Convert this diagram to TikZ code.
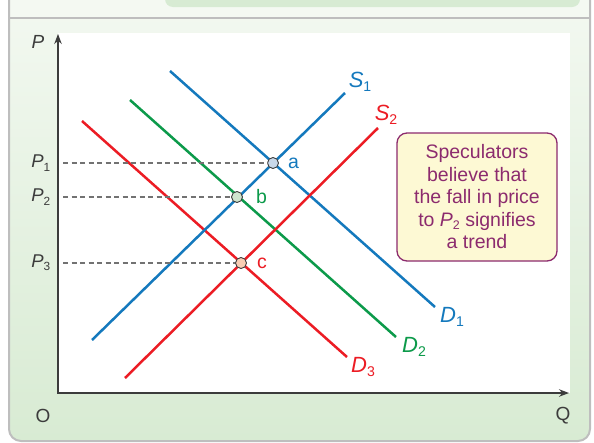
\documentclass[tikz,border=0pt]{standalone}
\usepackage{fontspec}
\setmainfont{Liberation Sans}
\usetikzlibrary{arrows.meta,positioning,calc}
\definecolor{mkblue}{HTML}{1479BD}
\definecolor{mkred}{HTML}{EC1C24}
\definecolor{mkgreen}{HTML}{0C9A4A}
\definecolor{mkplum}{HTML}{8C2B6E}
\definecolor{mkcream}{HTML}{FDF9D4}
\definecolor{mkframe}{HTML}{BEBEBE}
\definecolor{mkpale}{HTML}{F4F9F2}
\definecolor{mkmint}{HTML}{D8EBD3}
\definecolor{mktab}{HTML}{D7EBD3}
\definecolor{mkaxis}{HTML}{3C3C3C}
\definecolor{mkdash}{HTML}{727272}
\definecolor{dotblue}{HTML}{C8D8EA}
\definecolor{dotgreen}{HTML}{CFE4CE}
\definecolor{dotred}{HTML}{F9CDB3}
\newcommand{\qlab}[2]{\textit{#1}\raisebox{-0.18em}{\scalebox{0.64}{#2}}}
\tikzset{
  schedLine/.style={line width=2.5pt},
  guideLine/.style={draw=mkdash, line width=1.2pt, dash pattern=on 5pt off 3.5pt},
  eqDot/.style={circle, draw=mkaxis, line width=0.9pt, minimum size=11pt, inner sep=0pt},
  eqLabel/.style={font=\fontsize{19.5}{22}\selectfont, inner sep=1pt},
  schedLabel/.style={font=\fontsize{22}{24}\selectfont, inner sep=1pt},
  priceLabel/.style={font=\fontsize{18.5}{20}\selectfont, anchor=east, inner sep=0.5pt, text=mkaxis},
  axisLabel/.style={font=\fontsize{19}{21}\selectfont, inner sep=1pt, text=mkaxis},
  noteBox/.style={draw=mkplum, fill=mkcream, rounded corners=10pt, line width=1.3pt, text=mkplum, align=center,
    font=\fontsize{19.5}{22.5}\selectfont, minimum width=160pt, minimum height=128pt},
  axisArrow/.style={{Stealth[length=10pt, width=7.5pt]}-{Stealth[length=10pt, width=7.5pt]}, draw=mkaxis, line width=1.2pt}
}

\begin{document}
\begin{tikzpicture}[x=1pt,y=-1pt]
  \useasboundingbox (0,0) rectangle (594,442);
  % frame and panel
  \shade[top color=mkpale, bottom color=mkmint, rounded corners=12pt] (9,-20) rectangle (590,441);
  \fill[mkpale] (9,-20) rectangle (590,18);
  \fill[mktab, rounded corners=8pt] (165,-12) rectangle (580,7);
  \draw[mkframe, line width=2pt, rounded corners=12pt] (9,-20) rectangle (590,441);
  \draw[mkframe, line width=2pt] (9,18) -- (590,18);
  \fill[white] (58,33) rectangle (570,393);

  % axes
  \coordinate (origin) at (58,393);
  \coordinate (ptop) at (58,34);
  \coordinate (qend) at (569,393);
  \coordinate (yax) at (63,0);
  \draw[axisArrow] (ptop) -- (origin) -- (qend);
  \node[axisLabel] (plab) at (38,42) {\textit{P}};
  \node[axisLabel] (olab) at (43,416) {O};
  \node[axisLabel] (qlab) at (563,416) {Q};

  % supply and demand schedules
  \coordinate (s1lo) at (92,340);  \coordinate (s1hi) at (345,93);
  \coordinate (s2lo) at (125,378); \coordinate (s2hi) at (378,128);
  \coordinate (d1hi) at (170,71);  \coordinate (d1lo) at (435,307);
  \coordinate (d2hi) at (130,100); \coordinate (d2lo) at (396,337);
  \coordinate (d3hi) at (82,121);  \coordinate (d3lo) at (347,357);
  \draw[schedLine, mkred] (d3hi) -- (d3lo);
  \draw[schedLine, mkgreen] (d2hi) -- (d2lo);
  \draw[schedLine, mkblue] (d1hi) -- (d1lo);
  \draw[schedLine, mkblue] (s1lo) -- (s1hi);
  \draw[schedLine, mkred] (s2lo) -- (s2hi);
  \node[schedLabel, text=mkblue] (s1lab) at (360,82) {\qlab{S}{1}};
  \node[schedLabel, text=mkred] (s2lab) at (386,115) {\qlab{S}{2}};
  \node[schedLabel, text=mkblue] (d1lab) at (452,317) {\qlab{D}{1}};
  \node[schedLabel, text=mkgreen] (d2lab) at (414,347) {\qlab{D}{2}};
  \node[schedLabel, text=mkred] (d3lab) at (363,367) {\qlab{D}{3}};

  % equilibrium points
  \node[eqDot, fill=dotblue] (a) at (273,163) {};
  \node[eqDot, fill=dotgreen] (b) at (237,197) {};
  \node[eqDot, fill=dotred] (c) at (241,263) {};
  \node[eqLabel, text=mkblue, right=8pt of a] (alab) {a};
  \node[eqLabel, text=mkgreen, right=12pt of b] (blab) {b};
  \node[eqLabel, text=mkred, right=9pt of c] (clab) {c};

  % price levels
  \node[priceLabel] (p1) at (51,163) {\qlab{P}{1}};
  \node[priceLabel] (p2) at (51,197) {\qlab{P}{2}};
  \node[priceLabel] (p3) at (51,263) {\qlab{P}{3}};
  \draw[guideLine] (a -| yax) -- (a);
  \draw[guideLine] (b -| yax) -- (b);
  \draw[guideLine] (c -| yax) -- (c);

  \node[noteBox] (note) at (477,197) {Speculators\\believe that\\the fall in price\\to \qlab{P}{2} signifies\\a trend};
\end{tikzpicture}
\end{document}
